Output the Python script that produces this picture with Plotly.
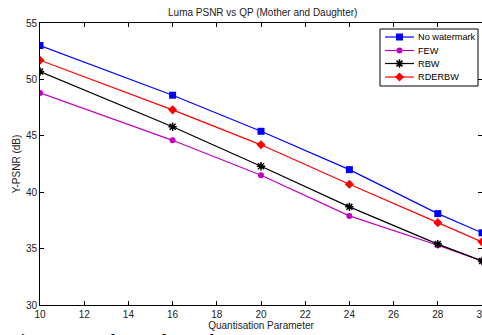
import plotly.graph_objects as go

qp = [10, 16, 20, 24, 28, 30]
no_watermark = [53.0, 48.6, 45.4, 42.0, 38.1, 36.4]
few = [48.8, 44.6, 41.5, 37.9, 35.3, 33.9]
rbw = [50.7, 45.8, 42.3, 38.7, 35.4, 33.9]
rderbw = [51.7, 47.3, 44.2, 40.7, 37.3, 35.6]
series_names = ["No watermark", "FEW", "RBW", "RDERBW"]

series = [
    (series_names[0], no_watermark, "#0000ff", "square", 7, 0),
    (series_names[1], few, "#c000c0", "circle", 6, 0),
    (series_names[2], rbw, "#000000", "asterisk-open", 7, 1.5),
    (series_names[3], rderbw, "#ff0000", "diamond", 7, 0),
]

FONT = "Liberation Sans, Arial"
fig = go.Figure()
for name, ys, col, sym, sz, lw in series:
    fig.add_trace(go.Scatter(
        x=qp, y=ys, name=name, mode="lines+markers", showlegend=False,
        line=dict(color=col, width=1.2),
        marker=dict(symbol=sym, size=sz, color=col, line=dict(color=col, width=lw)),
    ))

# Manual compact legend drawn on an overlay axis in pixel units
leg_left, leg_right, leg_top, leg_bottom = 380, 478, 29, 86
row_y = [37, 50.5, 63.5, 77]
for (name, ys, col, sym, sz, lw), ry in zip(series, row_y):
    fig.add_trace(go.Scatter(
        x=[385, 414], y=[ry, ry], mode="lines", showlegend=False, hoverinfo="skip",
        line=dict(color=col, width=1.2), xaxis="x2", yaxis="y2"))
    fig.add_trace(go.Scatter(
        x=[399.5], y=[ry], mode="markers", showlegend=False, hoverinfo="skip",
        marker=dict(symbol=sym, size=sz, color=col, line=dict(color=col, width=lw)),
        xaxis="x2", yaxis="y2"))
    fig.add_annotation(text=name, x=416, y=ry, xref="x2", yref="y2",
                       xanchor="left", yanchor="middle", showarrow=False,
                       font=dict(family=FONT, size=9.2, color="#000000"))

fig.add_shape(type="rect", xref="x2", yref="y2", x0=leg_left, x1=leg_right,
              y0=leg_top, y1=leg_bottom, line=dict(color="#000000", width=1),
              fillcolor="white", layer="below")

axis_common = dict(
    showgrid=False, zeroline=False, showline=True, linecolor="#000000", linewidth=1,
    mirror="ticks", ticks="inside", ticklen=4, tickcolor="#000000",
    ticklabeloverflow="allow", automargin=False,
    tickfont=dict(family=FONT, size=10, color="#222222"),
)

fig.update_layout(
    width=482, height=335,
    margin=dict(l=40, r=0, t=23, b=30),
    paper_bgcolor="white", plot_bgcolor="white",
    title=dict(text="Luma PSNR vs QP (Mother and Daughter)", x=0.545, xanchor="center",
               y=1 - 12/335, yanchor="middle",
               font=dict(family=FONT, size=10, color="#222222")),
    xaxis=dict(range=[10, 30], dtick=2, tick0=10,
               title=dict(text="Quantisation Parameter", standoff=0,
                          font=dict(family=FONT, size=10, color="#222222")),
               **axis_common),
    yaxis=dict(range=[30, 55], dtick=5, tick0=30,
               title=dict(text="Y-PSNR (dB)", standoff=3,
                          font=dict(family=FONT, size=10, color="#222222")),
               **axis_common),
    xaxis2=dict(range=[40, 482], overlaying="x", visible=False, fixedrange=True),
    yaxis2=dict(range=[305, 23], overlaying="y", visible=False, fixedrange=True),
    showlegend=False,
)

fig.add_annotation(
    text="<b>Figure 3: Mother and Daughter PSNR</b>", xref="paper", yref="paper",
    x=-32/442, y=(305-328.6)/282, xanchor="left", yanchor="top", showarrow=False,
    font=dict(family="Liberation Serif, Times New Roman", size=17, color="#000000"),
)

fig.write_html("out.html")
